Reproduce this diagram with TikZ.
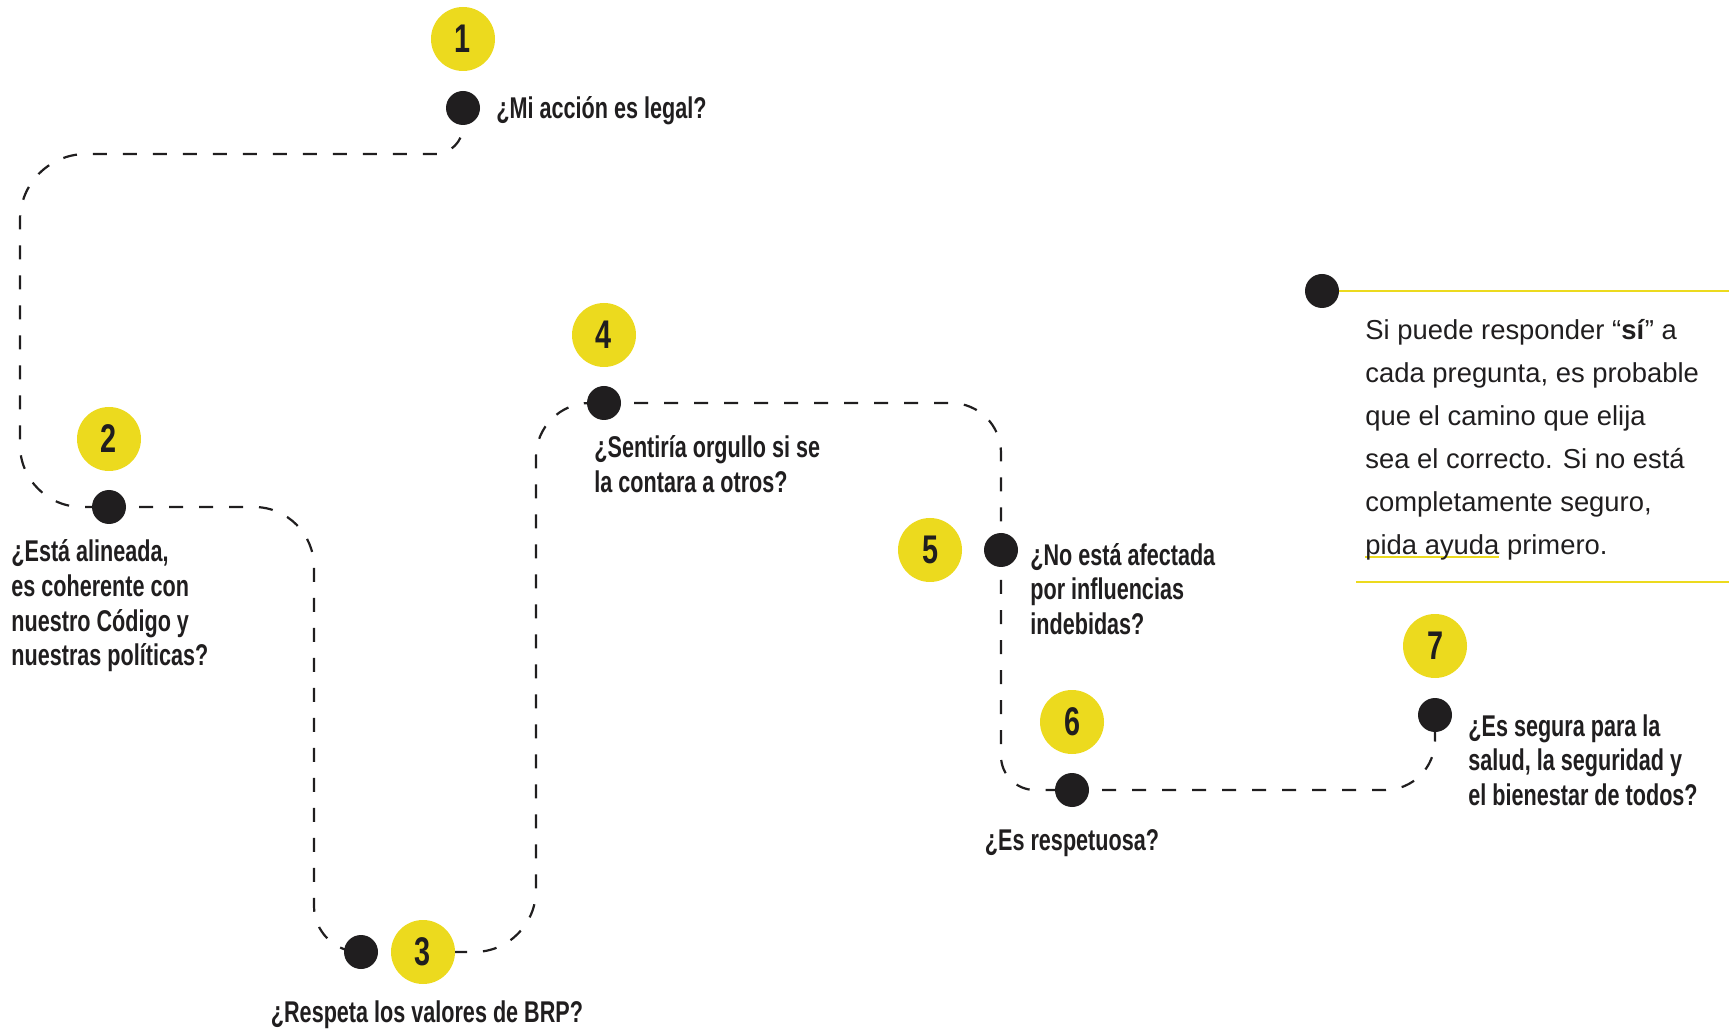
\documentclass[tikz,border=0pt]{standalone}
\usepackage{fontspec}
\setmainfont{Liberation Sans}
\newfontfamily\qfont[FakeStretch=0.72]{Liberation Sans}
\usetikzlibrary{backgrounds}
\definecolor{brpyellow}{RGB}{236,218,30}
\definecolor{ink}{RGB}{32,30,31}
\newcommand\yunder[1]{\setbox0\hbox{#1}\rlap{\color{brpyellow}\rule[-2pt]{\wd0}{1.1pt}}\box0\relax}

\begin{document}
\begin{tikzpicture}[x=0.5pt, y=-0.5pt]
  \useasboundingbox (0,0) rectangle (1729,1031);

  \begin{scope}[every node/.style={circle, fill=brpyellow, minimum size=32pt, inner sep=0pt, text=ink, font=\qfont\bfseries\fontsize{20}{20}\selectfont}]
    \node (n1) at (463,39)   {1};
    \node (n2) at (109,439)  {2};
    \node (n3) at (423,952)  {3};
    \node (n4) at (604,335)  {4};
    \node (n5) at (930,550)  {5};
    \node (n6) at (1072,722) {6};
    \node (n7) at (1435,646) {7};
  \end{scope}

  \begin{scope}[every node/.style={circle, fill=ink, minimum size=17pt, inner sep=0pt}]
    \node (1)   at (463,108)  {};
    \node (2)   at (109,507)  {};
    \node (3)   at (361,952)  {};
    \node (4)   at (604,403)  {};
    \node (5)   at (1001,550) {};
    \node (6)   at (1072,790) {};
    \node (7)   at (1435,715) {};
    \node (tip) at (1322,291) {};
  \end{scope}

  \begin{scope}[every node/.style={inner sep=0pt, align=left, text=ink, font=\qfont\bfseries\fontsize{15}{17.35}\selectfont}]
    \node[anchor=west] (q1) at (496,111)  {¿Mi acción es legal?};
    \node[anchor=west] (q2) at (11,606)   {¿Está alineada,\\es coherente con\\nuestro Código y\\nuestras políticas?};
    \node              (q3) at (427,1015) {¿Respeta los valores de BRP?};
    \node[anchor=west] (q4) at (594,464)  {¿Sentiría orgullo si se\\la contara a otros?};
    \node[anchor=west] (q5) at (1030,589) {¿No está afectada\\por influencias\\indebidas?};
    \node              (q6) at (1072,843) {¿Es respetuosa?};
    \node[anchor=west] (q7) at (1468,760) {¿Es segura para la\\salud, la seguridad y\\el bienestar de todos?};
  \end{scope}

  \node[anchor=west, inner sep=0pt, align=left, text=ink, font=\fontsize{13.7}{21.5}\selectfont] (note) at (1365,439.5)
    {Si puede responder “\textbf{sí}” a\\cada pregunta, es probable\\que el camino que elija\\sea el correcto. Si no está\\completamente seguro,\\\yunder{pida ayuda} primero.};

  \coordinate (edge) at (1729,0);
  \begin{scope}[brpyellow, line width=1.1pt]
    \draw (tip.east) -- (tip.east -| edge);
    \draw (1356,582) -- (1729,582);
  \end{scope}

  \begin{pgfonlayer}{background}
    \begin{scope}[ink, line width=1.1pt, dash pattern=on 7pt off 8pt]
      \draw (1.center) [rounded corners=14pt] -- (463,154) [rounded corners=33pt] -- (20,154) [rounded corners=31pt] -- (20,507) -- (2.center);
      \draw (2.center) [rounded corners=30pt] -- (314,507) [rounded corners=23pt] -- (314,952) -- (3.center);
      \draw (n3.center) [rounded corners=31pt] -- (536,952) [rounded corners=27pt] -- (536,403) -- (4.center);
      \draw (4.center) [rounded corners=25pt] -| (5.center);
      \draw (5.center) [rounded corners=17pt] |- (6.center);
      \draw (6.center) [rounded corners=25pt] -| (7.center);
    \end{scope}
  \end{pgfonlayer}

\end{tikzpicture}
\end{document}
